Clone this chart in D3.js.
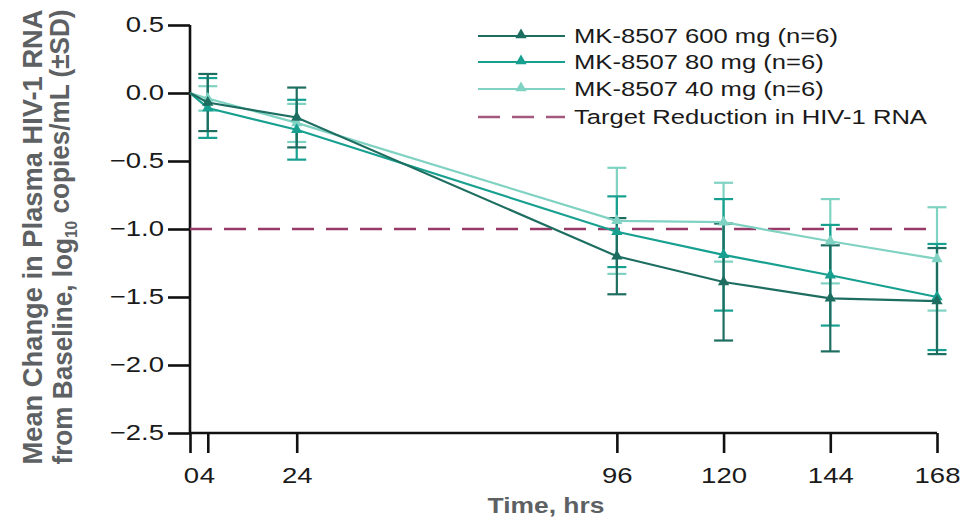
<!DOCTYPE html>
<html><head><meta charset="utf-8">
<script src="https://cdn.jsdelivr.net/npm/d3@7"></script>
<style>
body{margin:0;background:#fff;}
svg{display:block;font-family:"Liberation Sans",Arial,sans-serif;}
.sx{transform-box:fill-box;}
</style>
</head><body>
<svg id="c" width="976" height="519"></svg>
<script>
const times = [0, 4, 24, 96, 120, 144, 168];
const xTicks = [0, 4, 24, 96, 120, 144, 168];
const yTicks = [0.5, 0, -0.5, -1.0, -1.5, -2.0, -2.5];
const seriesNames = ["MK-8507 600 mg (n=6)", "MK-8507 80 mg (n=6)", "MK-8507 40 mg (n=6)"];
const mean600 = [0, -0.07, -0.18, -1.20, -1.39, -1.51, -1.53];
const sd600   = [0, 0.21, 0.22, 0.28, 0.43, 0.39, 0.39];
const mean80  = [0, -0.11, -0.27, -1.02, -1.19, -1.34, -1.50];
const sd80    = [0, 0.22, 0.22, 0.26, 0.41, 0.37, 0.39];
const mean40  = [0, -0.04, -0.22, -0.94, -0.95, -1.09, -1.22];
const sd40    = [0, 0.09, 0.14, 0.39, 0.29, 0.31, 0.38];
const targetLabel = "Target Reduction in HIV-1 RNA";
const targetValue = -1.0;
const colors = ["#1d6e61", "#17a090", "#80d2c2"];
const targetColor = "#973a68";

const svg = d3.select("#c");
const x = d3.scaleLinear().domain([0, 168]).range([190, 937]);
const y = d3.scaleLinear().domain([-2.5, 0.5]).range([433, 25]);
const SX = 1.28;

// axes
const yAx = svg.append("g").attr("transform", "translate(190,0)")
  .call(d3.axisLeft(y).tickValues(yTicks).tickSize(22).tickPadding(4)
    .tickFormat(d => d3.format(".1f")(d).replace("-", "\u2212")));
const xAx = svg.append("g").attr("transform", "translate(0,433)")
  .call(d3.axisBottom(x).tickValues(xTicks).tickSize(20).tickPadding(15)
    .tickFormat(d => String(d)));
[yAx, xAx].forEach(g => {
  g.select(".domain").attr("stroke", "#111").attr("stroke-width", 2.6);
  g.selectAll(".tick line").attr("stroke", "#111").attr("stroke-width", 2.6);
  g.selectAll(".tick text").attr("fill", "#1a1a1a").style("font-size", "21.5px")
    .attr("class", "sx");
});
xAx.select(".domain").attr("d", `M${x(0)},0H${x(168)}`);
yAx.select(".domain").attr("d", `M0,${y(0.5)}V${y(-2.5)}`);
yAx.selectAll(".tick text").style("transform-origin", "right center").style("transform", `scaleX(${SX})`);
xAx.selectAll(".tick text").style("transform-origin", "center").style("transform", `scaleX(${SX})`);
xAx.selectAll(".tick").filter(d => d === 0).select("text").attr("x", 1);
xAx.selectAll(".tick").filter(d => d === 4).select("text").attr("x", -1);

// target dashed line
svg.append("line").attr("x1", x(0)).attr("x2", x(168)).attr("y1", y(targetValue)).attr("y2", y(targetValue))
  .attr("stroke", targetColor).attr("stroke-width", 2.5).attr("stroke-dasharray", "22,12");

const data = [
  {name: seriesNames[0], mean: mean600, sd: sd600, color: colors[0]},
  {name: seriesNames[1], mean: mean80, sd: sd80, color: colors[1]},
  {name: seriesNames[2], mean: mean40, sd: sd40, color: colors[2]}
];
const line = d3.line().x((d, i) => x(times[i])).y(d => y(d));
const tri = d3.symbol().type(d3.symbolTriangle).size(55);

data.slice().reverse().forEach(s => {
  const g = svg.append("g").attr("stroke", s.color).attr("stroke-width", 2.2);
  times.forEach((t, i) => {
    if (s.sd[i] === 0) return;
    const cx = x(t), hi = y(s.mean[i] + s.sd[i]), lo = y(s.mean[i] - s.sd[i]);
    g.append("line").attr("x1", cx).attr("x2", cx).attr("y1", hi).attr("y2", lo);
    g.append("line").attr("x1", cx - 9.5).attr("x2", cx + 9.5).attr("y1", hi).attr("y2", hi);
    g.append("line").attr("x1", cx - 9.5).attr("x2", cx + 9.5).attr("y1", lo).attr("y2", lo);
  });
});
data.slice().reverse().forEach(s => {
  svg.append("path").attr("d", line(s.mean)).attr("fill", "none").attr("stroke", s.color).attr("stroke-width", 2.2);
  times.forEach((t, i) => {
    if (t === 0) return;
    svg.append("path").attr("d", tri()).attr("transform", `translate(${x(t)},${y(s.mean[i])})`).attr("fill", s.color);
  });
});

// legend
const legY = [36, 62, 89, 117];
data.forEach((s, i) => {
  svg.append("line").attr("x1", 478).attr("x2", 565).attr("y1", legY[i]).attr("y2", legY[i])
    .attr("stroke", s.color).attr("stroke-width", 2.2);
  svg.append("path").attr("d", tri()).attr("transform", `translate(521,${legY[i] - 1})`).attr("fill", s.color);
  svg.append("text").attr("x", 574).attr("y", legY[i]).attr("dy", "0.35em").text(s.name)
    .attr("fill", "#1a1a1a").style("font-size", "20.5px").attr("class", "sx")
    .style("transform-origin", "left center").style("transform", `scaleX(1.25)`);
});
svg.append("line").attr("x1", 478).attr("x2", 565).attr("y1", legY[3]).attr("y2", legY[3])
  .attr("stroke", "#a3597e").attr("stroke-width", 2.5).attr("stroke-dasharray", "22,12");
svg.append("text").attr("x", 574).attr("y", legY[3]).attr("dy", "0.35em").text(targetLabel)
  .attr("fill", "#1a1a1a").style("font-size", "20.5px").attr("class", "sx")
  .style("transform-origin", "left center").style("transform", `scaleX(1.25)`);

// axis titles
svg.append("text").attr("x", 546).attr("y", 505).attr("dy", "0.35em").attr("text-anchor", "middle")
  .text("Time, hrs").attr("fill", "#5d6163").style("font-size", "22px").style("font-weight", "bold")
  .attr("class", "sx").style("transform-origin", "center").style("transform", `scaleX(1.2)`);

const yt1 = svg.append("text").attr("transform", "translate(33,237) rotate(-90)").attr("text-anchor", "middle")
  .attr("dy", "0.35em").attr("fill", "#5d6163").style("font-size", "27px").style("font-weight", "bold")
  .text("Mean Change in Plasma HIV-1 RNA");
const yt2 = svg.append("text").attr("transform", "translate(63,237) rotate(-90)").attr("text-anchor", "middle")
  .attr("dy", "0.35em").attr("fill", "#5d6163").style("font-size", "27px").style("font-weight", "bold");
yt2.append("tspan").text("from Baseline, log");
yt2.append("tspan").text("10").style("font-size", "16px").attr("dy", "0.3em");
yt2.append("tspan").text(" copies/mL (\u00b1SD)").attr("dy", "-0.3em");
[yt1, yt2].forEach(t => t.attr("textLength", 455).attr("lengthAdjust", "spacingAndGlyphs"));
</script>
</body></html>
